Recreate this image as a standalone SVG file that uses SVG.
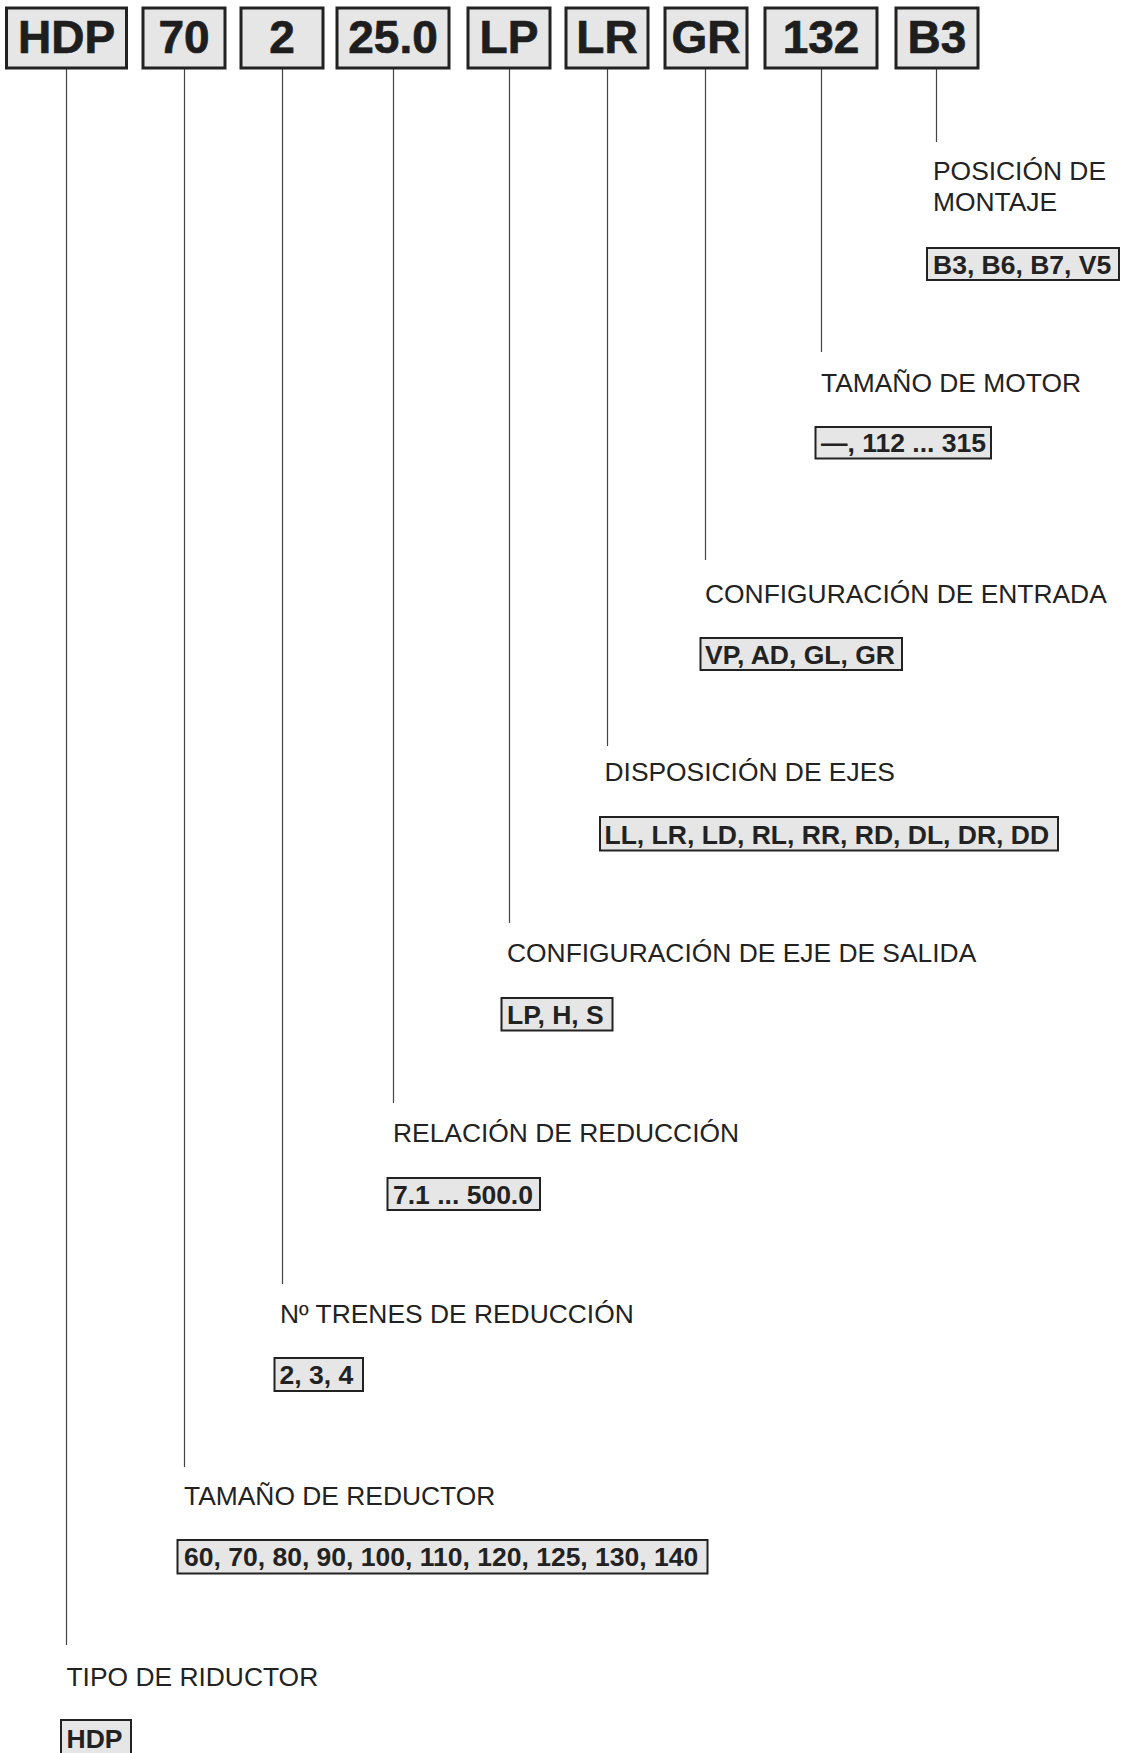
<svg xmlns="http://www.w3.org/2000/svg" width="1122" height="1753" viewBox="0 0 1122 1753">
<style>
.bg{fill:#ffffff}
.key rect{fill:#e6e6e6;stroke:#222;stroke-width:3}
.key text{font-family:"Liberation Sans",Arial,sans-serif;font-weight:bold;font-size:46px;fill:#1e1e1e;stroke:#1e1e1e;stroke-width:0.7;text-anchor:middle}
.opt rect{fill:#e6e6e6;stroke:#222;stroke-width:2}
.opt text{font-family:"Liberation Sans",Arial,sans-serif;font-weight:bold;font-size:26.5px;fill:#222}
.lbl{font-family:"Liberation Sans",Arial,sans-serif;font-size:26.4px;fill:#222}
#connectors line{stroke:#444;stroke-width:1.2}
</style>
<rect class="bg" x="0" y="0" width="1122" height="1753"/>

<g id="connectors">
<line x1="66.5" y1="69" x2="66.5" y2="1645"/>
<line x1="184.5" y1="69" x2="184.5" y2="1467"/>
<line x1="282.5" y1="69" x2="282.5" y2="1284"/>
<line x1="393.5" y1="69" x2="393.5" y2="1103"/>
<line x1="509.5" y1="69" x2="509.5" y2="923"/>
<line x1="607.5" y1="69" x2="607.5" y2="746"/>
<line x1="705.5" y1="69" x2="705.5" y2="560"/>
<line x1="821.5" y1="69" x2="821.5" y2="352"/>
<line x1="936.5" y1="69" x2="936.5" y2="142"/>
</g>

<g id="key-hdp" class="key"><rect x="6.5" y="8" width="120" height="60"/><text x="66.5" y="52.5">HDP</text></g>
<g id="key-70" class="key"><rect x="143" y="8" width="82" height="60"/><text x="184" y="52.5">70</text></g>
<g id="key-2" class="key"><rect x="241" y="8" width="82" height="60"/><text x="282" y="52.5">2</text></g>
<g id="key-25" class="key"><rect x="337" y="8" width="112" height="60"/><text x="393" y="52.5">25.0</text></g>
<g id="key-lp" class="key"><rect x="468" y="8" width="82" height="60"/><text x="509" y="52.5">LP</text></g>
<g id="key-lr" class="key"><rect x="566" y="8" width="82" height="60"/><text x="607" y="52.5">LR</text></g>
<g id="key-gr" class="key"><rect x="665" y="8" width="82" height="60"/><text x="706" y="52.5">GR</text></g>
<g id="key-132" class="key"><rect x="765" y="8" width="112" height="60"/><text x="821" y="52.5">132</text></g>
<g id="key-b3" class="key"><rect x="896" y="8" width="82" height="60"/><text x="937" y="52.5">B3</text></g>

<g id="opt-montaje" class="opt">
<text class="lbl" x="933" y="179.5" style="font-weight:normal;font-size:26.4px">POSICIÓN DE</text>
<text class="lbl" x="933" y="210.5" style="font-weight:normal;font-size:26.4px">MONTAJE</text>
<rect x="927" y="248" width="192" height="32"/>
<text x="933" y="273.5">B3, B6, B7, V5</text>
</g>

<g id="opt-motor" class="opt">
<text class="lbl" x="821" y="391.5" style="font-weight:normal;font-size:26.4px">TAMAÑO DE MOTOR</text>
<rect x="815.5" y="427" width="175.5" height="31.5"/>
<text x="821" y="452">—, 112 ... 315</text>
</g>

<g id="opt-entrada" class="opt">
<text class="lbl" x="705" y="603" style="font-weight:normal;font-size:26.4px">CONFIGURACIÓN DE ENTRADA</text>
<rect x="700.5" y="638" width="201.5" height="32"/>
<text x="705" y="663.5">VP, AD, GL, GR</text>
</g>

<g id="opt-ejes" class="opt">
<text class="lbl" x="604.5" y="781" style="font-weight:normal;font-size:26.4px">DISPOSICIÓN DE EJES</text>
<rect x="600" y="817" width="458" height="33.5"/>
<text x="604.5" y="843.5">LL, LR, LD, RL, RR, RD, DL, DR, DD</text>
</g>

<g id="opt-salida" class="opt">
<text class="lbl" x="507" y="961.5" style="font-weight:normal;font-size:26.4px">CONFIGURACIÓN DE EJE DE SALIDA</text>
<rect x="501.5" y="998" width="111" height="32.5"/>
<text x="507" y="1024">LP, H, S</text>
</g>

<g id="opt-relacion" class="opt">
<text class="lbl" x="393" y="1141.5" style="font-weight:normal;font-size:26.4px">RELACIÓN DE REDUCCIÓN</text>
<rect x="387.5" y="1178" width="152.5" height="32"/>
<text x="393" y="1203.5">7.1 ... 500.0</text>
</g>

<g id="opt-trenes" class="opt">
<text class="lbl" x="280" y="1322.5" style="font-weight:normal;font-size:26.4px">Nº TRENES DE REDUCCIÓN</text>
<rect x="274.5" y="1358" width="88.5" height="33"/>
<text x="279.5" y="1384">2, 3, 4</text>
</g>

<g id="opt-tamano" class="opt">
<text class="lbl" x="184" y="1504.5" style="font-weight:normal;font-size:26.4px">TAMAÑO DE REDUCTOR</text>
<rect x="177.5" y="1540" width="530" height="33.5"/>
<text x="184" y="1566">60, 70, 80, 90, 100, 110, 120, 125, 130, 140</text>
</g>

<g id="opt-tipo" class="opt">
<text class="lbl" x="66.5" y="1686" style="font-weight:normal;font-size:26.4px">TIPO DE RIDUCTOR</text>
<rect x="61" y="1720" width="70" height="36"/>
<text x="66.5" y="1748">HDP</text>
</g>
</svg>
